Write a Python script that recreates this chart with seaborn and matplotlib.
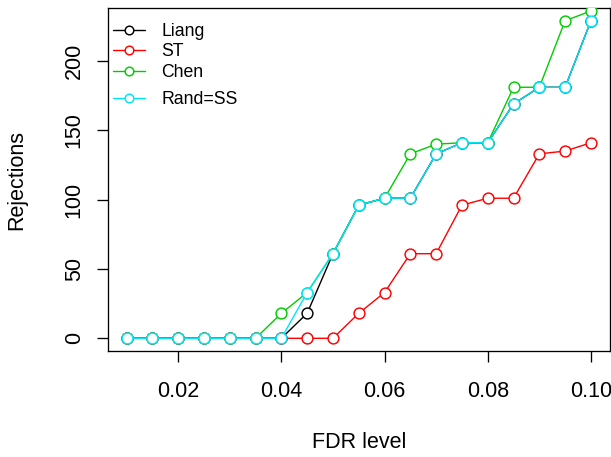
import numpy as np
import pandas as pd
import seaborn as sns
import matplotlib
matplotlib.use("Agg")
import matplotlib.pyplot as plt
from matplotlib.lines import Line2D

# FDR levels and number of rejections for each method
fdr_level = [0.010, 0.015, 0.020, 0.025, 0.030, 0.035, 0.040, 0.045, 0.050, 0.055,
             0.060, 0.065, 0.070, 0.075, 0.080, 0.085, 0.090, 0.095, 0.100]
liang = [0, 0, 0, 0, 0, 0, 0, 18, 61, 96, 101, 101, 133, 141, 141, 169, 181, 181, 229]
st = [0, 0, 0, 0, 0, 0, 0, 0, 0, 18, 33, 61, 61, 96, 101, 101, 133, 135, 141]
chen = [0, 0, 0, 0, 0, 0, 18, 33, 61, 96, 101, 133, 140, 141, 141, 181, 181, 229, 236]
rand_ss = [0, 0, 0, 0, 0, 0, 0, 33, 61, 96, 101, 101, 133, 141, 141, 169, 181, 181, 229]

methods = ["Liang", "ST", "Chen", "Rand=SS"]
colors = ["#000000", "#FF0000", "#00CD00", "#00E5FF"]

df = pd.concat([
    pd.DataFrame({"fdr": fdr_level, "rej": vals, "method": name})
    for name, vals in zip(methods, [liang, st, chen, rand_ss])
], ignore_index=True)

sns.set_style("white")
plt.rcParams["font.family"] = ["Liberation Sans", "DejaVu Sans"]
plt.rcParams["text.color"] = "black"
plt.rcParams["axes.labelcolor"] = "black"
plt.rcParams["xtick.color"] = "black"
plt.rcParams["ytick.color"] = "black"

fig = plt.figure(figsize=(6.11, 4.57), dpi=100)
ax = fig.add_axes([108 / 611, 1 - 351 / 457, (609.5 - 108) / 611, (351 - 8) / 457])

lw = 1.0
for i, (name, col) in enumerate(zip(methods, colors)):
    sub = df[df["method"] == name]
    sns.lineplot(data=sub, x="fdr", y="rej", ax=ax, color=col, lw=lw,
                 marker="o", markersize=7.8, markerfacecolor="white",
                 markeredgecolor=col, markeredgewidth=1.05,
                 legend=False, zorder=2 + i)

# R-style axis ranges: 4% padding around the first series
xr = max(fdr_level) - min(fdr_level)
ax.set_xlim(min(fdr_level) - 0.04 * xr, max(fdr_level) + 0.04 * xr)
yr = max(liang) - min(liang)
ax.set_ylim(min(liang) - 0.04 * yr, max(liang) + 0.04 * yr)

ax.set_xticks([0.02, 0.04, 0.06, 0.08, 0.10])
ax.set_xticklabels(["0.02", "0.04", "0.06", "0.08", "0.10"])
ax.set_yticks([0, 50, 100, 150, 200])
ax.set_yticklabels(["0", "50", "100", "150", "200"], rotation=90, va="center")

ax.tick_params(axis="both", which="both", direction="out", length=8.2, width=0.95,
               color="black", labelcolor="black", labelsize=15.5,
               bottom=True, left=True)
ax.tick_params(axis="x", pad=13.5)
ax.tick_params(axis="y", pad=8.5)

for sp in ax.spines.values():
    sp.set_visible(True)
    sp.set_color("black")
    sp.set_linewidth(0.95)

ax.set_xlabel("FDR level", fontsize=15.5, color="black")
ax.set_ylabel("Rejections", fontsize=15.5, color="black")
ax.xaxis.set_label_coords(0.5, -0.236)
ax.yaxis.set_label_coords(-0.161, 0.5)

def handle(col):
    return Line2D([], [], color=col, lw=lw, marker="o", markersize=6.2,
                  markerfacecolor="white", markeredgecolor=col, markeredgewidth=1.05)

legend_kw = dict(loc="upper left", frameon=False, fontsize=12.7,
                 handlelength=1.82, handletextpad=0.9, borderaxespad=0.0,
                 borderpad=0.3, labelcolor="black")
leg1 = ax.legend([handle(c) for c in colors[:3]], methods[:3],
                 bbox_to_anchor=(0.0, 0.972), labelspacing=0.2, **legend_kw)
ax.add_artist(leg1)
ax.legend([handle(colors[3])], methods[3:], bbox_to_anchor=(0.0, 0.772), **legend_kw)

fig.savefig("out.png", dpi=100)
